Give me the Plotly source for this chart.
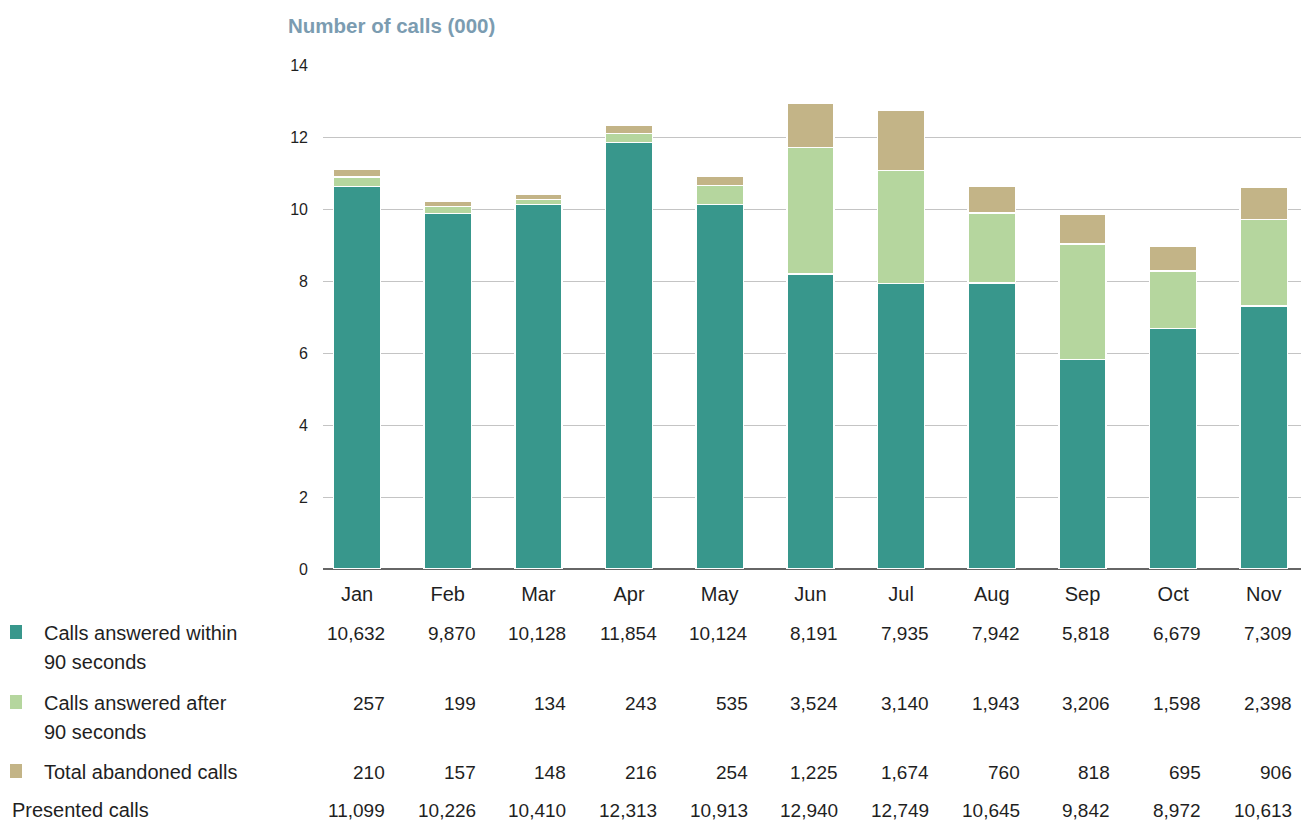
import plotly.graph_objects as go

months = ["Jan", "Feb", "Mar", "Apr", "May", "Jun", "Jul", "Aug", "Sep", "Oct", "Nov"]
within_90 = [10632, 9870, 10128, 11854, 10124, 8191, 7935, 7942, 5818, 6679, 7309]
after_90 = [257, 199, 134, 243, 535, 3524, 3140, 1943, 3206, 1598, 2398]
abandoned = [210, 157, 148, 216, 254, 1225, 1674, 760, 818, 695, 906]
presented = [11099, 10226, 10410, 12313, 10913, 12940, 12749, 10645, 9842, 8972, 10613]
y_ticks = [0, 2, 4, 6, 8, 10, 12, 14]

series_names = ["Calls answered within 90 seconds", "Calls answered after 90 seconds", "Total abandoned calls"]
colors = ["#38978c", "#b5d69e", "#c3b487"]

W, H = 1301, 822
L, T, B = 323, 65, 569
FONT = "Liberation Sans, Arial, sans-serif"
TXT = "#1f1f1f"

fig = go.Figure()
xs = list(range(len(months)))
for name, vals, col in zip(series_names, [within_90, after_90, abandoned], colors):
    fig.add_trace(go.Bar(
        x=xs, y=[v / 1000 for v in vals], name=name,
        marker=dict(color=col, line=dict(color="white", width=1.5)),
        width=0.52, showlegend=False,
    ))

def py(px):
    return (B - px) / (B - T)

def pxx(px):
    return (px - L) / (W - L)

ann = []
ann.append(dict(text="<b>Number of calls (000)</b>", x=pxx(286), y=py(25), xref="paper", yref="paper",
                xanchor="left", yanchor="middle", showarrow=False,
                font=dict(family=FONT, size=20.5, color="#7b9cb1")))

rows = [
    (within_90, 633, ["Calls answered within", "90 seconds"], colors[0]),
    (after_90, 703, ["Calls answered after", "90 seconds"], colors[1]),
    (abandoned, 772, ["Total abandoned calls"], colors[2]),
]
OFF = 0.33
for vals, ypx, label_lines, col in rows:
    for i, v in enumerate(vals):
        ann.append(dict(text=f"{v:,}", x=i + OFF, y=py(ypx), xref="x", yref="paper",
                        xanchor="right", yanchor="middle", showarrow=False,
                        font=dict(family=FONT, size=19, color=TXT)))
    for k, line in enumerate(label_lines):
        ann.append(dict(text=line, x=pxx(42), y=py(ypx + 29 * k), xref="paper", yref="paper",
                        xanchor="left", yanchor="middle", showarrow=False,
                        font=dict(family=FONT, size=20, color=TXT)))
    fig.add_shape(type="rect", xref="paper", yref="paper",
                  x0=pxx(10), x1=pxx(22), y0=py(ypx - 8), y1=py(ypx + 6),
                  fillcolor=col, line=dict(width=0))

for i, v in enumerate(presented):
    ann.append(dict(text=f"{v:,}", x=i + OFF, y=py(810), xref="x", yref="paper",
                    xanchor="right", yanchor="middle", showarrow=False,
                    font=dict(family=FONT, size=19, color=TXT)))
ann.append(dict(text="Presented calls", x=pxx(10), y=py(810), xref="paper", yref="paper",
                xanchor="left", yanchor="middle", showarrow=False,
                font=dict(family=FONT, size=20, color=TXT)))

fig.update_layout(
    width=W, height=H,
    margin=dict(l=L, r=0, t=T, b=H - B, pad=0),
    barmode="stack", bargap=0.5,
    paper_bgcolor="white", plot_bgcolor="white",
    annotations=ann,
    xaxis=dict(tickmode="array", tickvals=xs, ticktext=months, range=[-0.375, 10.41],
               showgrid=False, zeroline=False, showline=False, ticks="",
               tickfont=dict(family=FONT, size=20, color=TXT), ticklabelstandoff=11,
               fixedrange=True),
    yaxis=dict(range=[0, 14], tickvals=y_ticks, showgrid=True, gridcolor="#c4c4c4", gridwidth=1,
               zeroline=True, zerolinecolor="#666666", zerolinewidth=1.5,
               tickfont=dict(family=FONT, size=16, color=TXT), ticks="", ticklabelstandoff=14,
               fixedrange=True),
    font=dict(family=FONT),
)

fig.write_html("out.html", config={"displayModeBar": False},
               post_script="document.body.style.margin='0';document.body.style.overflow='hidden';")
